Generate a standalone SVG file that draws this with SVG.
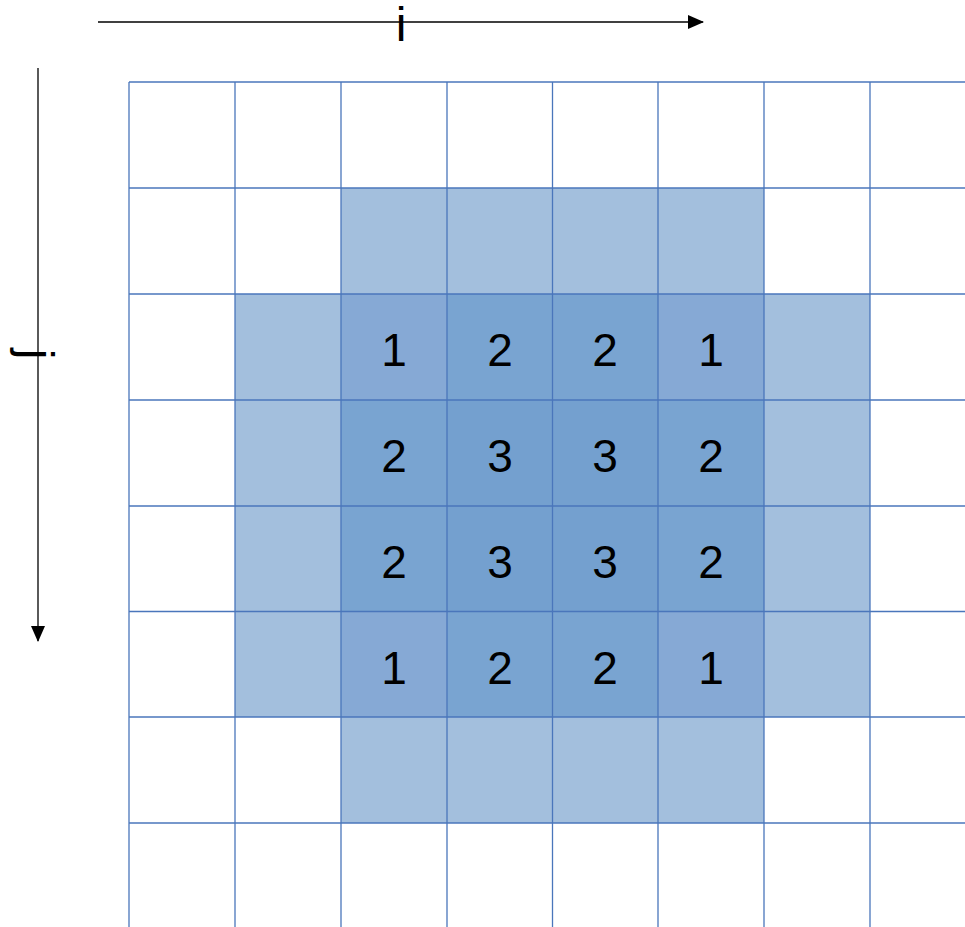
<svg xmlns="http://www.w3.org/2000/svg" width="965" height="927" viewBox="0 0 965 927">
<style>
.grid line{stroke:#4a76bb;stroke-width:1.3}
.axis{stroke:#000;stroke-width:1.3;fill:none}
.lbl{font-family:"Liberation Sans",Arial,sans-serif;font-size:46px;fill:#000;text-anchor:middle}
.ax{font-family:"Liberation Sans",Arial,sans-serif;font-size:48px;fill:#000;text-anchor:middle}
.c0{fill:#a3bfdd}
.c1{fill:#86a9d5}
.c2{fill:#79a4d1}
.c3{fill:#74a0cf}
</style>
<defs>
<marker id="ah" viewBox="0 0 16 14" refX="15" refY="7" markerWidth="16" markerHeight="14" markerUnits="userSpaceOnUse" orient="auto">
<path d="M0,0 L16,7 L0,14 Z" fill="#000"/>
</marker>
</defs>
<rect width="965" height="927" fill="#fff"/>
<g id="cells">
<rect class="c0" x="341" y="188" width="423" height="106"/>
<rect class="c0" x="235" y="294" width="635" height="423"/>
<rect class="c0" x="341" y="717" width="423" height="106"/>
<rect class="c1" x="341" y="294" width="106" height="106"/>
<rect class="c2" x="447" y="294" width="211" height="106"/>
<rect class="c1" x="658" y="294" width="106" height="106"/>
<rect class="c2" x="341" y="400" width="106" height="211.5"/>
<rect class="c3" x="447" y="400" width="211" height="211.5"/>
<rect class="c2" x="658" y="400" width="106" height="211.5"/>
<rect class="c1" x="341" y="611.5" width="106" height="105.5"/>
<rect class="c2" x="447" y="611.5" width="211" height="105.5"/>
<rect class="c1" x="658" y="611.5" width="106" height="105.5"/>
</g>
<g id="grid" class="grid">
<line x1="129" y1="82" x2="129" y2="927"/>
<line x1="235" y1="82" x2="235" y2="927"/>
<line x1="341" y1="82" x2="341" y2="927"/>
<line x1="447" y1="82" x2="447" y2="927"/>
<line x1="552.5" y1="82" x2="552.5" y2="927"/>
<line x1="658" y1="82" x2="658" y2="927"/>
<line x1="764" y1="82" x2="764" y2="927"/>
<line x1="870" y1="82" x2="870" y2="927"/>
<line x1="129" y1="82" x2="965" y2="82"/>
<line x1="129" y1="188" x2="965" y2="188"/>
<line x1="129" y1="294" x2="965" y2="294"/>
<line x1="129" y1="400" x2="965" y2="400"/>
<line x1="129" y1="506" x2="965" y2="506"/>
<line x1="129" y1="611.5" x2="965" y2="611.5"/>
<line x1="129" y1="717" x2="965" y2="717"/>
<line x1="129" y1="823" x2="965" y2="823"/>
</g>
<g id="numbers">
<text class="lbl" x="394" y="366">1</text>
<text class="lbl" x="500" y="366">2</text>
<text class="lbl" x="605" y="366">2</text>
<text class="lbl" x="711" y="366">1</text>
<text class="lbl" x="394" y="472">2</text>
<text class="lbl" x="500" y="472">3</text>
<text class="lbl" x="605" y="472">3</text>
<text class="lbl" x="711" y="472">2</text>
<text class="lbl" x="394" y="578">2</text>
<text class="lbl" x="500" y="578">3</text>
<text class="lbl" x="605" y="578">3</text>
<text class="lbl" x="711" y="578">2</text>
<text class="lbl" x="394" y="684">1</text>
<text class="lbl" x="500" y="684">2</text>
<text class="lbl" x="605" y="684">2</text>
<text class="lbl" x="711" y="684">1</text>
</g>
<g id="connectors">
<line class="axis" x1="98" y1="22" x2="703" y2="22" marker-end="url(#ah)"/>
<line class="axis" x1="38" y1="68" x2="38" y2="641" marker-end="url(#ah)"/>
</g>
<g id="label-i"><text class="ax" x="401" y="41">i</text></g>
<g id="label-j"><text class="ax" transform="translate(20,354) rotate(90)" x="0" y="0">j</text></g>
</svg>
